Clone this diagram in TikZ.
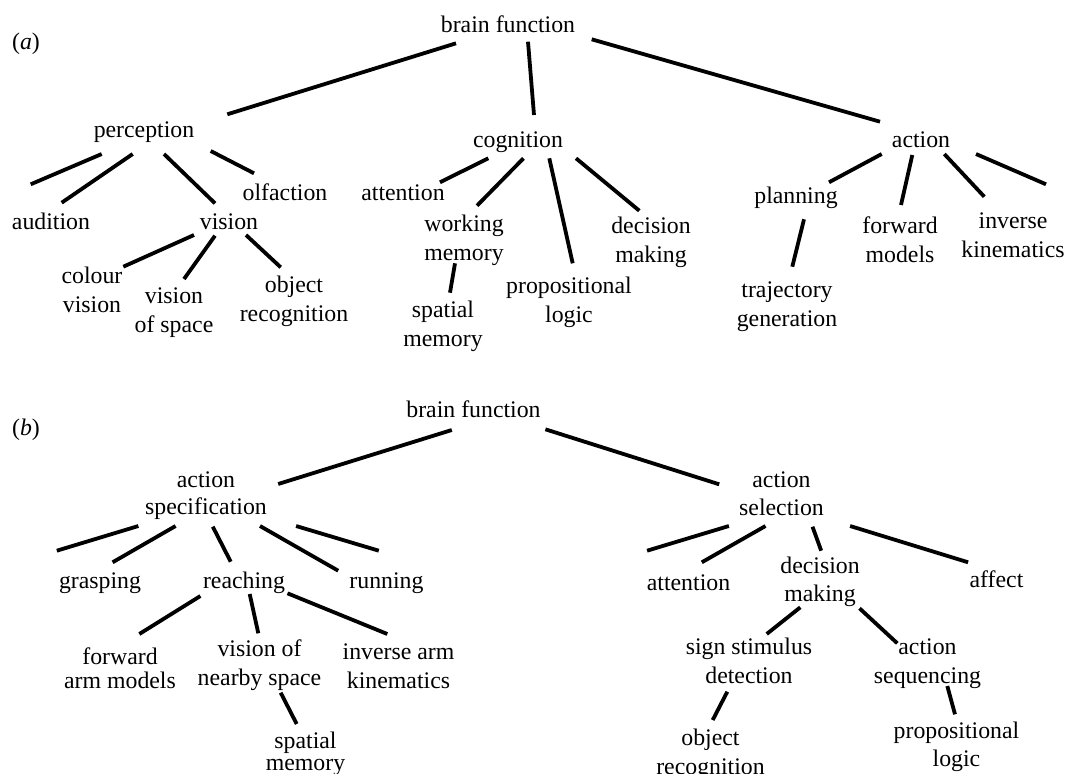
\documentclass[tikz,border=0pt]{standalone}
\usepackage{fontspec}
\setmainfont{Liberation Serif}
\newcommand\lbltop{\rule{0pt}{20pt}}
\tikzset{
  lbl/.style={anchor=north, yshift=20pt, inner sep=0pt, align=center,
              font=\fontsize{23.8}{29}\selectfont},
  conn/.style={line width=3.8pt, line cap=butt}
}
\begin{document}
\begin{tikzpicture}[x=1pt,y=-1pt]
\useasboundingbox (0,0) rectangle (1066,774);
% ---------------- panel (a) ----------------
\node[lbl] (la)   at (26,49)     {\lbltop(\textit{a})};
\node[lbl] (bf)   at (508,32)    {\lbltop brain function};
\node[lbl] (perc) at (144,137)   {\lbltop perception};
\node[lbl] (cogn) at (518,147)   {\lbltop cognition};
\node[lbl] (act)  at (921,147)   {\lbltop action};
\node[lbl] (aud)  at (51,229)    {\lbltop audition};
\node[lbl] (vis)  at (229,229)   {\lbltop vision};
\node[lbl] (olf)  at (285,200)   {\lbltop olfaction};
\node[lbl] (att)  at (403,200)   {\lbltop attention};
\node[lbl] (wm)   at (464,231)   {\lbltop working\\memory};
\node[lbl] (sm)   at (443,317)   {\lbltop spatial\\memory};
\node[lbl] (cv)   at (92,283)    {\lbltop colour\\vision};
\node[lbl] (vos)  at (174,303)   {\lbltop vision\\of space};
\node[lbl] (objr) at (294,292)   {\lbltop object\\recognition};
\node[lbl] (prop) at (569,293)   {\lbltop propositional\\logic};
\node[lbl] (dm)   at (651,233)   {\lbltop decision\\making};
\node[lbl] (plan) at (796,203)   {\lbltop planning};
\node[lbl] (fm)   at (900,233)   {\lbltop forward\\models};
\node[lbl] (ik)   at (1013,228)  {\lbltop inverse\\kinematics};
\node[lbl] (tg)   at (787,297)   {\lbltop trajectory\\generation};
\coordinate (f1) at (30.7,184.3);
\coordinate (f2) at (1046,184.3);
\draw[conn] ([shift={(-52,31.3)}]bf.north) -- ([shift={(83.3,-2.7)}]perc.north);
\draw[conn] ([shift={(20,29.7)}]bf.north) -- ([shift={(16,-12)}]cogn.north);
\draw[conn] ([shift={(83.7,27.3)}]bf.north) -- ([shift={(-41,-5.3)}]act.north);
\draw[conn] ([shift={(-42.3,37)}]perc.north) -- (f1);
\draw[conn] ([shift={(-11.3,37)}]perc.north) -- ([shift={(10.7,-6.3)}]aud.north);
\draw[conn] ([shift={(20,37)}]perc.north) -- ([shift={(-14,-5.7)}]vis.north);
\draw[conn] ([shift={(66.7,34)}]perc.north) -- ([shift={(-31,-6.7)}]olf.north);
\draw[conn] ([shift={(-29.7,31.3)}]cogn.north) -- ([shift={(37,2.3)}]att.north);
\draw[conn] ([shift={(5.5,31.3)}]cogn.north) -- ([shift={(13,-5.3)}]wm.north);
\draw[conn] ([shift={(31.3,31.3)}]cogn.north) -- ([shift={(3.7,-9.7)}]prop.north);
\draw[conn] ([shift={(58,31.3)}]cogn.north) -- ([shift={(-11.7,-2.3)}]dm.north);
\draw[conn] ([shift={(-39.3,27)}]act.north) -- ([shift={(33,-0.7)}]plan.north);
\draw[conn] ([shift={(-8.7,28)}]act.north) -- ([shift={(1,-8)}]fm.north);
\draw[conn] ([shift={(23.3,27)}]act.north) -- ([shift={(-28.7,-11.3)}]ik.north);
\draw[conn] ([shift={(55,27)}]act.north) -- (f2);
\draw[conn] ([shift={(-35,26)}]vis.north) -- ([shift={(31.3,3.7)}]cv.north);
\draw[conn] ([shift={(-14,26.7)}]vis.north) -- ([shift={(10,-4)}]vos.north);
\draw[conn] ([shift={(17,26)}]vis.north) -- ([shift={(-13.3,-4.7)}]objr.north);
\draw[conn] ([shift={(-9,52.3)}]wm.north) -- ([shift={(7,-4.3)}]sm.north);
\draw[conn] ([shift={(8,36.3)}]plan.north) -- ([shift={(5.3,-10.3)}]tg.north);
% ---------------- panel (b) ----------------
\node[lbl] (lb)   at (26,435)    {\lbltop(\textit{b})};
\node[lbl] (bf2)  at (473.5,417) {\lbltop brain function};
\node[lbl] (as)   at (206,487)   {\lbltop action\\[-2pt]specification};
\node[lbl] (gr)   at (100,588)   {\lbltop grasping};
\node[lbl] (re)   at (244,588)   {\lbltop reaching};
\node[lbl] (ru)   at (386.5,588) {\lbltop running};
\node[lbl] (fam)  at (120,664)   {\lbltop forward\\[-5pt]arm models};
\node[lbl] (vns)  at (259.5,656) {\lbltop vision of\\nearby space};
\node[lbl] (iak)  at (398.5,659) {\lbltop inverse arm\\kinematics};
\node[lbl] (sm2)  at (305.5,748) {\lbltop spatial\\[-7pt]memory};
\node[lbl] (asel) at (781.5,487) {\lbltop action\\[-1pt]selection};
\node[lbl] (att2) at (688.5,590) {\lbltop attention};
\node[lbl] (dm2)  at (820,573)   {\lbltop decision\\[-1pt]making};
\node[lbl] (aff)  at (996.5,587) {\lbltop affect};
\node[lbl] (ssd)  at (749,654)   {\lbltop sign stimulus\\detection};
\node[lbl] (aseq) at (927.5,654) {\lbltop action\\sequencing};
\node[lbl] (or2)  at (710.5,745) {\lbltop object\\recognition};
\node[lbl] (pl2)  at (956.5,738) {\lbltop propositional\\[-1pt]logic};
\coordinate (f3) at (56.8,550.7);
\coordinate (f4) at (378.8,550.7);
\coordinate (f5) at (647.1,550.7);
\draw[conn] ([shift={(-21.7,33)}]bf2.north) -- ([shift={(72.2,17)}]as.north);
\draw[conn] ([shift={(71.9,32.3)}]bf2.north) -- ([shift={(-62.3,17.3)}]asel.north);
\draw[conn] ([shift={(-67.6,59)}]as.north) -- (f3);
\draw[conn] ([shift={(-30.4,59)}]as.north) -- ([shift={(12.6,-5.7)}]gr.north);
\draw[conn] ([shift={(6.8,59.7)}]as.north) -- ([shift={(-13.3,-6.3)}]re.north);
\draw[conn] ([shift={(54,59)}]as.north) -- ([shift={(-48.3,2.7)}]ru.north);
\draw[conn] ([shift={(90.1,59)}]as.north) -- (f4);
\draw[conn] ([shift={(-43.6,28)}]re.north) -- ([shift={(19.3,-10)}]fam.north);
\draw[conn] ([shift={(5.7,26)}]re.north) -- ([shift={(-1.2,-2.7)}]vns.north);
\draw[conn] ([shift={(43.5,25.3)}]re.north) -- ([shift={(-11.2,-5)}]iak.north);
\draw[conn] ([shift={(21.2,56.7)}]vns.north) -- ([shift={(-8.8,-4)}]sm2.north);
\draw[conn] ([shift={(-52.6,59)}]asel.north) -- (f5);
\draw[conn] ([shift={(-16,59)}]asel.north) -- ([shift={(13.3,-7.7)}]att2.north);
\draw[conn] ([shift={(31,59.7)}]asel.north) -- ([shift={(1.2,-2.3)}]dm2.north);
\draw[conn] ([shift={(68.6,59)}]asel.north) -- ([shift={(-28.4,-4.7)}]aff.north);
\draw[conn] ([shift={(-19.7,54.3)}]dm2.north) -- ([shift={(17.7,0)}]ssd.north);
\draw[conn] ([shift={(39.5,55.3)}]dm2.north) -- ([shift={(-30.2,9.3)}]aseq.north);
\draw[conn] ([shift={(-21.7,57.7)}]ssd.north) -- ([shift={(2.2,-5)}]or2.north);
\draw[conn] ([shift={(19.8,52)}]aseq.north) -- ([shift={(-1.5,-3.7)}]pl2.north);
\end{tikzpicture}
\end{document}
